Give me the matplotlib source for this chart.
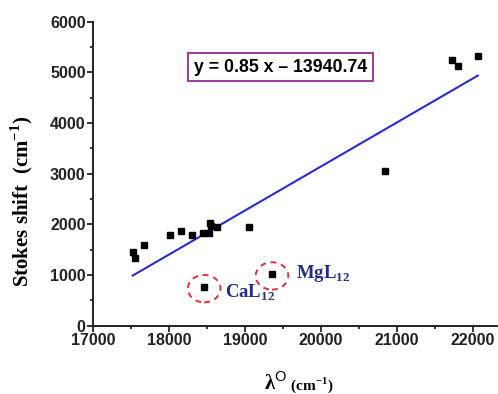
import numpy as np
import matplotlib
matplotlib.use('Agg')
import matplotlib.pyplot as plt
from matplotlib.patches import Ellipse
from matplotlib.ticker import MultipleLocator

plt.rcParams['mathtext.fontset'] = 'custom'
plt.rcParams['mathtext.rm'] = 'Liberation Serif:bold'
plt.rcParams['mathtext.bf'] = 'Liberation Serif:bold'
plt.rcParams['mathtext.sf'] = 'Liberation Sans'

# lambda_O (cm-1) vs Stokes shift (cm-1)
lam = [17518, 17549, 17671, 18005, 18150, 18303, 18439, 18526, 18536, 18545,
       18632, 19053, 20842, 21724, 21803, 22066]
stokes = [1462, 1332, 1595, 1792, 1870, 1792, 1838, 1838, 2036, 1970,
          1957, 1957, 3057, 5237, 5119, 5316]

# the two outliers that are circled
out_names = ['CaL$_{12}$', 'MgL$_{12}$']
out_lam = [18461, 19355]
out_stokes = [771, 1022]

# linear fit as drawn
fit_x = [17518, 22066]
fit_y = [988, 4935]
fit_label = 'y = 0.85 x \u2013 13940.74'

navy = '#232c85'

fig = plt.figure(figsize=(4.98, 3.94), dpi=100)
ax = fig.add_axes([0.1874, 0.1734, 0.8106, 0.7716])

ax.plot(fit_x, fit_y, color='#2a2ad6', lw=1.5, zorder=2)
ax.plot(lam, stokes, 's', color='black', ms=5, zorder=3)
ax.plot(out_lam, out_stokes, 's', color='black', ms=5, zorder=3)

offsets = [(15, -8), (17, -3)]
for name, x, y, off in zip(out_names, out_lam, out_stokes, offsets):
    ax.add_patch(Ellipse((x, y - 40), 430, 540, fill=False, ls=(0, (3, 2.5)),
                         ec='#e0303a', lw=1.4, zorder=4))
    ax.annotate(name, (x, y), xytext=off, textcoords='offset points',
                va='baseline', ha='left', fontsize=13.5, fontweight='bold',
                family='Liberation Serif', color=navy)

ax.text(19463, 5103, fit_label, ha='center', va='center', fontsize=12.8,
        fontweight='bold', family='Liberation Sans',
        bbox=dict(boxstyle='square,pad=0.32', fc='white', ec='#9b3a9b', lw=1.4))

ax.set_xlim(17000, 22320)
ax.set_ylim(0, 6000)
ax.xaxis.set_major_locator(MultipleLocator(1000))
ax.xaxis.set_minor_locator(MultipleLocator(500))
ax.yaxis.set_major_locator(MultipleLocator(1000))
ax.yaxis.set_minor_locator(MultipleLocator(500))
ax.spines['top'].set_visible(False)
ax.spines['right'].set_visible(False)
for s in ['left', 'bottom']:
    ax.spines[s].set_linewidth(1.4)
    ax.spines[s].set_color('#222222')
ax.tick_params(which='major', direction='out', length=4, width=1.3, pad=1.5,
               colors='#222222')
ax.tick_params(which='minor', direction='out', length=2.5, width=1.1)
for lbl in ax.get_xticklabels() + ax.get_yticklabels():
    lbl.set_family('Liberation Sans')
    lbl.set_fontweight('bold')
    lbl.set_fontsize(11.5)

ax.set_ylabel('Stokes shift  (cm$^{-1}$)', family='Liberation Serif',
              fontweight='bold', fontsize=15)
ax.yaxis.set_label_coords(-0.145, 0.41)
ax.text(0.48, -0.2115, '\u03bb$^{\\mathsf{O}}$', transform=ax.transAxes,
        ha='right', va='baseline', fontsize=15, fontweight='bold',
        family='Liberation Serif')
ax.text(0.48, -0.2115, ' (cm$^{-1}$)', transform=ax.transAxes,
        ha='left', va='baseline', fontsize=11, fontweight='bold',
        family='Liberation Serif')

fig.savefig('out.png', dpi=100)
